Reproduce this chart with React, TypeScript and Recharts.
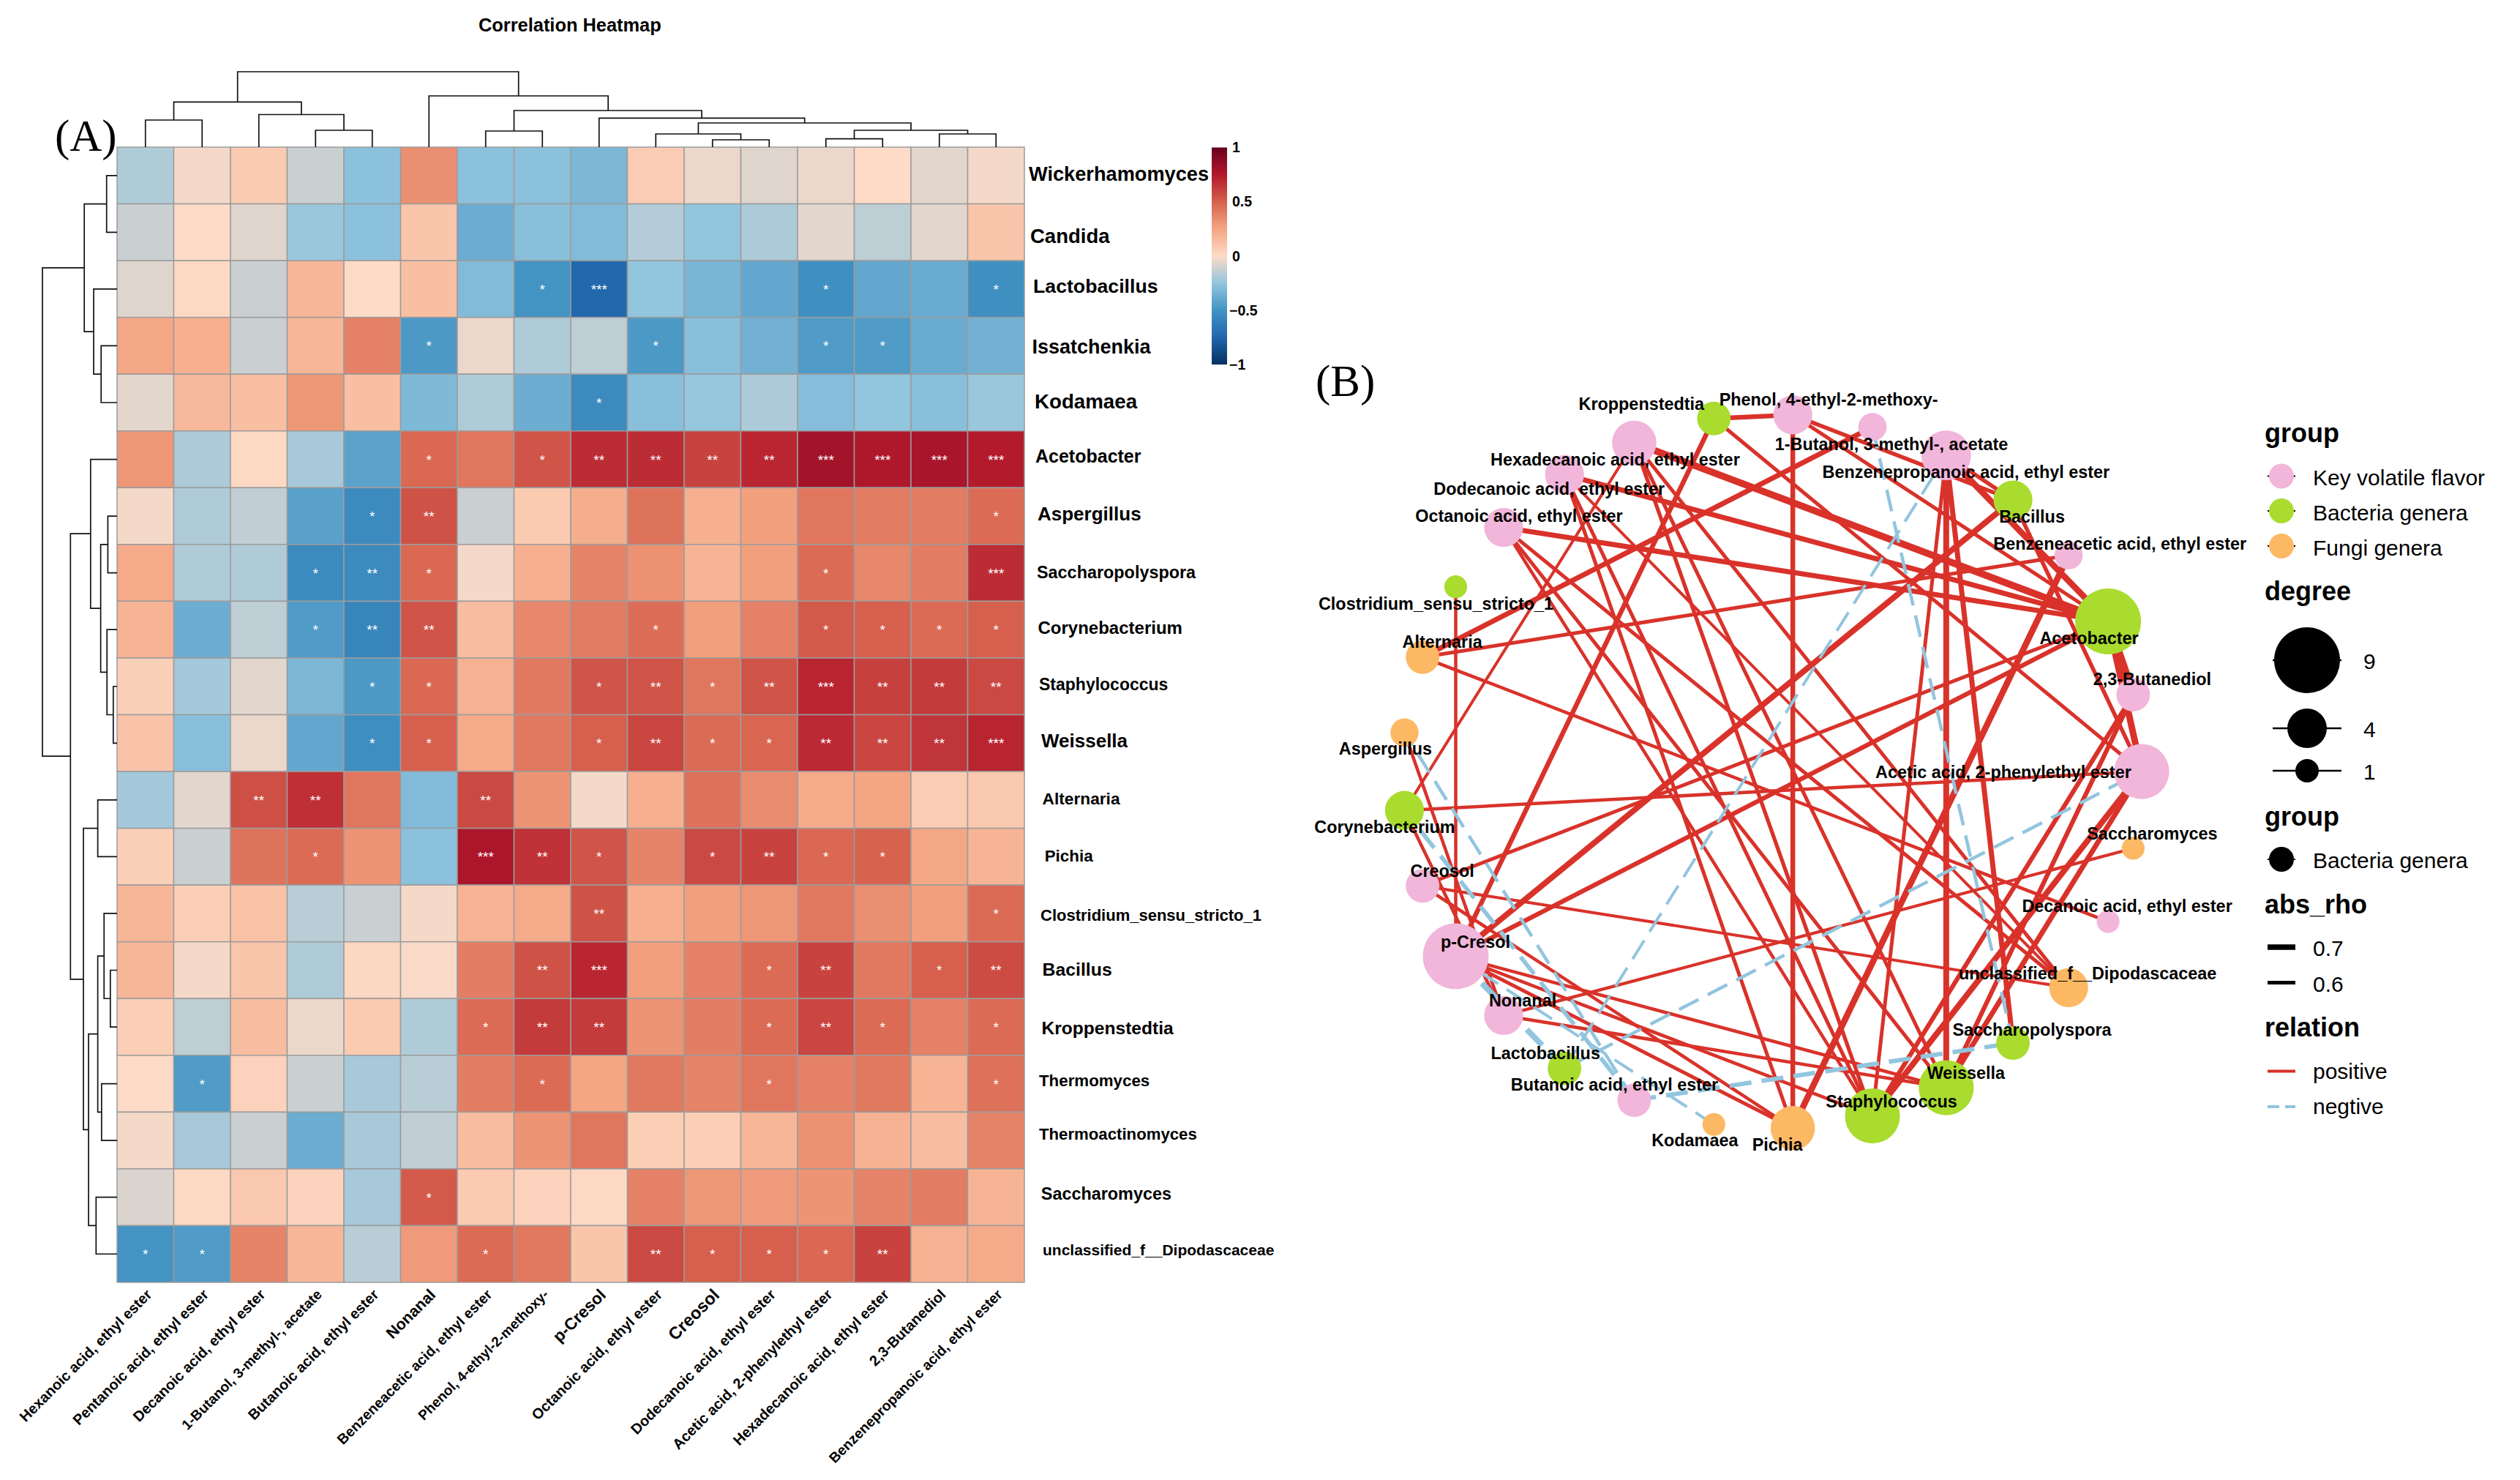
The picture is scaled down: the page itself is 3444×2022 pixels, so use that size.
// App.tsx
import { ScatterChart, Scatter, XAxis, YAxis, ReferenceArea } from 'recharts';

const PAGE_W = 3444;
const PAGE_H = 2022;
const CELL = 77.5;
const SANS = '"Liberation Sans", Arial, sans-serif';

const colLabels = [
  'Hexanoic acid, ethyl ester', 'Pentanoic acid, ethyl ester', 'Decanoic acid, ethyl ester',
  '1-Butanol, 3-methyl-, acetate', 'Butanoic acid, ethyl ester', 'Nonanal',
  'Benzeneacetic acid, ethyl ester', 'Phenol, 4-ethyl-2-methoxy-', 'p-Cresol',
  'Octanoic acid, ethyl ester', 'Creosol', 'Dodecanoic acid, ethyl ester',
  'Acetic acid, 2-phenylethyl ester', 'Hexadecanoic acid, ethyl ester', '2,3-Butanediol',
  'Benzenepropanoic acid, ethyl ester',
];
const colLabelSize = [20, 20, 20, 19.2, 20, 21.5, 19.6, 19, 22.5, 20, 23.5, 20, 20, 20, 20, 19.4];

const rowLabels = [
  'Wickerhamomyces', 'Candida', 'Lactobacillus', 'Issatchenkia', 'Kodamaea', 'Acetobacter',
  'Aspergillus', 'Saccharopolyspora', 'Corynebacterium', 'Staphylococcus', 'Weissella',
  'Alternaria', 'Pichia', 'Clostridium_sensu_stricto_1', 'Bacillus', 'Kroppenstedtia',
  'Thermomyces', 'Thermoactinomyces', 'Saccharomyces', 'unclassified_f__Dipodascaceae',
];
const rowLabelSize = [27.2, 27.5, 26.7, 27, 27.7, 25, 26, 23.4, 24, 23, 26, 22.7, 22.4, 22, 24.8, 24.6, 22.3, 22.2, 23.4, 21];
const rowLabelDx = [6, 8, 12, 10.5, 14, 15, 18, 17, 18.5, 20, 23, 24.6, 27.7, 22, 24.6, 23.4, 20, 20, 22.8, 25];
const rowLabelDy = [-2, 5, -4, 1, -2, -4, -3, -1, -3, -3, -3, -2, -1, 2, -1, 1, -4, -9, -5, -6];

// one row per genus
const heatValues = [
  [-0.18, -0.02, 0.08, -0.12, -0.27, 0.33, -0.27, -0.27, -0.32, 0.07, -0.04, -0.07, -0.04, 0, -0.06, -0.02],
  [-0.12, 0, -0.07, -0.23, -0.27, 0.1, -0.37, -0.28, -0.3, -0.17, -0.25, -0.19, -0.06, -0.15, -0.06, 0.1],
  [-0.07, 0.01, -0.12, 0.17, 0, 0.13, -0.3, -0.5, -0.74, -0.25, -0.33, -0.4, -0.52, -0.4, -0.38, -0.52],
  [0.24, 0.2, -0.12, 0.17, 0.38, -0.47, -0.04, -0.18, -0.15, -0.47, -0.28, -0.35, -0.46, -0.46, -0.38, -0.35],
  [-0.06, 0.16, 0.13, 0.3, 0.13, -0.31, -0.18, -0.37, -0.55, -0.28, -0.24, -0.19, -0.29, -0.25, -0.28, -0.23],
  [0.3, -0.19, 0.01, -0.2, -0.42, 0.47, 0.42, 0.54, 0.68, 0.68, 0.6, 0.7, 0.8, 0.76, 0.78, 0.74],
  [-0.02, -0.18, -0.14, -0.43, -0.55, 0.55, -0.12, 0.08, 0.21, 0.43, 0.2, 0.27, 0.42, 0.4, 0.4, 0.46],
  [0.22, -0.18, -0.18, -0.55, -0.55, 0.47, -0.02, 0.2, 0.37, 0.32, 0.18, 0.27, 0.46, 0.36, 0.4, 0.68],
  [0.18, -0.37, -0.15, -0.46, -0.58, 0.54, 0.14, 0.36, 0.4, 0.45, 0.27, 0.38, 0.52, 0.5, 0.46, 0.5],
  [0.05, -0.21, -0.06, -0.32, -0.47, 0.47, 0.19, 0.41, 0.54, 0.54, 0.42, 0.54, 0.71, 0.61, 0.63, 0.58],
  [0.11, -0.28, -0.04, -0.4, -0.53, 0.5, 0.22, 0.41, 0.5, 0.59, 0.46, 0.48, 0.69, 0.59, 0.65, 0.71],
  [-0.21, -0.06, 0.56, 0.67, 0.42, -0.3, 0.58, 0.31, -0.02, 0.2, 0.44, 0.34, 0.22, 0.25, 0.07, 0.09],
  [0.05, -0.12, 0.43, 0.46, 0.31, -0.27, 0.77, 0.66, 0.54, 0.37, 0.58, 0.6, 0.47, 0.49, 0.24, 0.18],
  [0.17, 0.06, 0.12, -0.16, -0.12, -0.02, 0.18, 0.22, 0.55, 0.2, 0.27, 0.3, 0.41, 0.33, 0.27, 0.46],
  [0.17, -0.02, 0.1, -0.18, 0.02, -0.01, 0.39, 0.55, 0.7, 0.27, 0.38, 0.46, 0.6, 0.41, 0.5, 0.57],
  [0.06, -0.15, 0.14, -0.04, 0.08, -0.18, 0.46, 0.63, 0.63, 0.31, 0.39, 0.46, 0.59, 0.46, 0.38, 0.46],
  [0, -0.46, 0.04, -0.12, -0.2, -0.16, 0.39, 0.46, 0.25, 0.41, 0.37, 0.42, 0.38, 0.41, 0.18, 0.44],
  [-0.02, -0.2, -0.12, -0.37, -0.2, -0.14, 0.14, 0.31, 0.42, 0.06, 0.06, 0.17, 0.32, 0.19, 0.14, 0.37],
  [-0.08, 0.01, 0.09, 0.04, -0.2, 0.52, 0.08, 0.04, 0.01, 0.38, 0.3, 0.29, 0.31, 0.37, 0.4, 0.18],
  [-0.5, -0.46, 0.37, 0.17, -0.16, 0.29, 0.46, 0.41, 0.1, 0.58, 0.5, 0.5, 0.47, 0.6, 0.19, 0.22],
];

// number of significance stars per cell
const starCounts = [
  '0000000000000000', '0000000000000000', '0000000130001001', '0000010001001100',
  '0000000010000000', '0000010122223333', '0000120000000001', '0001210000001003',
  '0001220001001111', '0000110012123222', '0000110012112223', '0022002000000000',
  '0001003210121100', '0000000020000001', '0000000230012012', '0000001220012101',
  '0100000100010001', '0000000000000000', '0000010000000000', '1100001002111200',
];

// [pos a, height a, pos b, height b, merge height]
const topMerges = [
  [0.5, 0, 1.5, 0, 37], [3.5, 0, 4.5, 0, 23], [2.5, 0, 4, 23, 44.5], [1, 37, 3.25, 44.5, 61.6],
  [6.5, 0, 7.5, 0, 22], [10.5, 0, 11.5, 0, 10], [9.5, 0, 11, 10, 18], [12.5, 0, 13.5, 0, 11.4],
  [14.5, 0, 15.5, 0, 18], [13, 11.4, 15, 18, 23], [10.25, 18, 14, 23, 33], [8.5, 0, 12.125, 33, 39.6],
  [7, 22, 10.31, 39.6, 50], [5.5, 0, 8.66, 50, 70], [2.125, 61.6, 7.08, 70, 103],
];
const leftMerges = [
  [0.5, 0, 1.5, 0, 14.3], [3.5, 0, 4.5, 0, 21.8], [2.5, 0, 4, 21.8, 32], [1, 14.3, 3.25, 32, 44.8],
  [6.5, 0, 7.5, 0, 12.6], [9.5, 0, 10.5, 0, 5.2], [8.5, 0, 10, 5.2, 13.8], [7, 12.6, 9.25, 13.8, 22.4],
  [5.5, 0, 8.125, 22.4, 36.2], [11.5, 0, 12.5, 0, 26.4], [14.5, 0, 15.5, 0, 9.2], [13.5, 0, 15, 9.2, 17.8],
  [16.5, 0, 17.5, 0, 21.2], [14.25, 17.8, 17, 21.2, 26.4], [18.5, 0, 19.5, 0, 28.7], [15.625, 26.4, 19, 28.7, 39],
  [12, 26.4, 17.31, 39, 46], [6.81, 36.2, 14.66, 46, 63.7], [2.125, 44.8, 10.73, 63.7, 102],
];

const scaleStops = ['#053061', '#2166ac', '#4393c3', '#92c5de', '#fddbc7', '#f4a582', '#d6604d', '#b2182b', '#67001f'];
const colorbarTicks = [-1, -0.5, 0, 0.5, 1];

// network
const nodeNames = [
  'Acetic acid, 2-phenylethyl ester', '2,3-Butanediol', 'Acetobacter', 'Benzeneacetic acid, ethyl ester',
  'Bacillus', 'Benzenepropanoic acid, ethyl ester', '1-Butanol, 3-methyl-, acetate', 'Phenol, 4-ethyl-2-methoxy-',
  'Kroppenstedtia', 'Hexadecanoic acid, ethyl ester', 'Dodecanoic acid, ethyl ester', 'Octanoic acid, ethyl ester',
  'Clostridium_sensu_stricto_1', 'Alternaria', 'Aspergillus', 'Corynebacterium', 'Creosol', 'p-Cresol', 'Nonanal',
  'Lactobacillus', 'Butanoic acid, ethyl ester', 'Kodamaea', 'Pichia', 'Staphylococcus', 'Weissella',
  'Saccharopolyspora', 'unclassified_f__Dipodascaceae', 'Decanoic acid, ethyl ester', 'Saccharomyces',
];
const nodeX = [1, 0.977, 0.909, 0.802, 0.651, 0.47, 0.27, 0.054, -0.16, -0.376, -0.565, -0.73, -0.86, -0.95, -0.999, -0.999, -0.95, -0.86, -0.73, -0.565, -0.376, -0.16, 0.054, 0.27, 0.47, 0.651, 0.802, 0.909, 0.977];
const nodeY = [0, 0.215, 0.42, 0.605, 0.76, 0.885, 0.964, 0.998, 0.988, 0.92, 0.831, 0.683, 0.517, 0.32, 0.109, -0.109, -0.32, -0.517, -0.683, -0.831, -0.92, -0.988, -0.998, -0.964, -0.885, -0.76, -0.605, -0.42, -0.215];
const nodeDegree = [7, 3, 9, 2, 4, 6, 2, 4, 3, 5, 4, 4, 1, 3, 2, 4, 3, 9, 4, 3, 3, 1, 5, 7, 7, 3, 4, 1, 1];
// 0 key volatile flavor, 1 bacteria, 2 fungi
const nodeGroup = [0, 0, 1, 0, 1, 0, 0, 0, 1, 0, 0, 0, 1, 2, 2, 1, 0, 0, 0, 1, 0, 2, 2, 1, 1, 1, 2, 0, 2];
const groupColors = ['#f1b6da', '#a9dc2e', '#fdb863'];
const nodeLabelDx = [-189, 26, -26, 70, 26, 27, 26, 49, -99, -26, -21, 21, -27, 27, -26, -27, 27, 27, 26, -26, -27, -26, -21, 26, 27, 26, 26, 26, 26];
const nodeLabelDy = [1, -21, 23, -16, 23, 23, 23, -21, -20, 23, 19, -16, 23, -21, 22, 23, -20, -20, -21, -21, -21, 22, 23, -20, -20, -18, -20, -21, -20];

// [node a, node b, rho]
const edges: [string, string, number][] = [
  ['Kroppenstedtia', 'Phenol, 4-ethyl-2-methoxy-', 0.66],
  ['Kroppenstedtia', 'p-Cresol', 0.66],
  ['Kroppenstedtia', 'Acetic acid, 2-phenylethyl ester', 0.6],
  ['Acetobacter', 'Hexadecanoic acid, ethyl ester', 0.78],
  ['Acetobacter', 'Dodecanoic acid, ethyl ester', 0.68],
  ['Acetobacter', 'Octanoic acid, ethyl ester', 0.68],
  ['Acetobacter', 'Benzenepropanoic acid, ethyl ester', 0.74],
  ['Acetobacter', '2,3-Butanediol', 0.84],
  ['Acetobacter', 'Acetic acid, 2-phenylethyl ester', 0.76],
  ['Acetobacter', 'Creosol', 0.6],
  ['Acetobacter', 'p-Cresol', 0.65],
  ['Acetobacter', 'Phenol, 4-ethyl-2-methoxy-', 0.6],
  ['Alternaria', '1-Butanol, 3-methyl-, acetate', 0.68],
  ['Alternaria', 'Benzeneacetic acid, ethyl ester', 0.6],
  ['Alternaria', 'Decanoic acid, ethyl ester', 0.58],
  ['Bacillus', 'p-Cresol', 0.72],
  ['Bacillus', 'Phenol, 4-ethyl-2-methoxy-', 0.62],
  ['Bacillus', 'Acetic acid, 2-phenylethyl ester', 0.62],
  ['Bacillus', 'Benzenepropanoic acid, ethyl ester', 0.62],
  ['Pichia', 'Phenol, 4-ethyl-2-methoxy-', 0.66],
  ['Pichia', 'Benzeneacetic acid, ethyl ester', 0.74],
  ['Pichia', 'Dodecanoic acid, ethyl ester', 0.6],
  ['Pichia', 'Creosol', 0.58],
  ['Pichia', 'p-Cresol', 0.6],
  ['Staphylococcus', 'Hexadecanoic acid, ethyl ester', 0.61],
  ['Staphylococcus', 'Octanoic acid, ethyl ester', 0.58],
  ['Staphylococcus', 'Dodecanoic acid, ethyl ester', 0.6],
  ['Staphylococcus', 'Benzenepropanoic acid, ethyl ester', 0.6],
  ['Staphylococcus', 'Acetic acid, 2-phenylethyl ester', 0.72],
  ['Staphylococcus', '2,3-Butanediol', 0.65],
  ['Staphylococcus', 'p-Cresol', 0.58],
  ['Weissella', 'Benzenepropanoic acid, ethyl ester', 0.72],
  ['Weissella', 'Acetic acid, 2-phenylethyl ester', 0.68],
  ['Weissella', '2,3-Butanediol', 0.65],
  ['Weissella', 'Hexadecanoic acid, ethyl ester', 0.6],
  ['Weissella', 'Octanoic acid, ethyl ester', 0.6],
  ['Weissella', 'p-Cresol', 0.58],
  ['Weissella', 'Nonanal', 0.58],
  ['unclassified_f__Dipodascaceae', 'Octanoic acid, ethyl ester', 0.6],
  ['unclassified_f__Dipodascaceae', 'Hexadecanoic acid, ethyl ester', 0.6],
  ['unclassified_f__Dipodascaceae', 'Dodecanoic acid, ethyl ester', 0.56],
  ['unclassified_f__Dipodascaceae', 'Creosol', 0.56],
  ['Clostridium_sensu_stricto_1', 'p-Cresol', 0.58],
  ['Corynebacterium', 'Hexadecanoic acid, ethyl ester', 0.56],
  ['Corynebacterium', 'Acetic acid, 2-phenylethyl ester', 0.58],
  ['Corynebacterium', 'Nonanal', 0.58],
  ['Aspergillus', 'Nonanal', 0.58],
  ['Saccharopolyspora', 'Benzenepropanoic acid, ethyl ester', 0.68],
  ['Saccharomyces', 'Nonanal', 0.57],
  ['Lactobacillus', 'p-Cresol', -0.72],
  ['Lactobacillus', 'Acetic acid, 2-phenylethyl ester', -0.58],
  ['Lactobacillus', 'Benzenepropanoic acid, ethyl ester', -0.56],
  ['Kodamaea', 'p-Cresol', -0.56],
  ['Butanoic acid, ethyl ester', 'Aspergillus', -0.58],
  ['Butanoic acid, ethyl ester', 'Corynebacterium', -0.63],
  ['Butanoic acid, ethyl ester', 'Saccharopolyspora', -0.64],
  ['1-Butanol, 3-methyl-, acetate', 'Saccharopolyspora', -0.58],
];

const hexToRgb = (h: string) => [1, 3, 5].map((i) => parseInt(h.slice(i, i + 2), 16));

function heatColor(v: number) {
  const t = (Math.max(-1, Math.min(1, v)) + 1) * 4;
  const i = Math.min(7, Math.floor(t));
  const a = hexToRgb(scaleStops[i]);
  const b = hexToRgb(scaleStops[i + 1]);
  const c = a.map((n, k) => Math.round(n + (b[k] - n) * (t - i)));
  return `rgb(${c[0]},${c[1]},${c[2]})`;
}

const heatData = rowLabels.flatMap((_, r) =>
  colLabels.map((__, c) => ({ x: c + 0.5, y: r + 0.5, value: heatValues[r][c], stars: Number(starCounts[r][c]) })),
);
const colTicks = colLabels.map((_, i) => i + 0.5);
const rowTicks = rowLabels.map((_, i) => i + 0.5);

const nodeData = nodeNames.map((name, i) => ({
  name,
  x: nodeX[i],
  y: nodeY[i],
  degree: nodeDegree[i],
  group: nodeGroup[i],
  index: i,
}));
const nodeAt = (name: string) => nodeData[nodeNames.indexOf(name)];

// same radius law as the degree legend
const degreeRadius = (d: number) => 15.6 + (d - 1) * 3.67;
const rhoWidth = (rho: number) => 5 + (Math.abs(rho) - 0.6) * 25;

function HeatCell(props: any) {
  const { cx, cy, payload } = props;
  return (
    <g>
      <rect x={cx - CELL / 2} y={cy - CELL / 2} width={CELL} height={CELL} fill={heatColor(payload.value)} stroke="#9c9c9c" strokeWidth={1.5} />
      {payload.stars > 0 && (
        <text x={cx} y={cy + 7} textAnchor="middle" fontFamily={SANS} fontSize={19} fill="#ffffff">
          {'*'.repeat(payload.stars)}
        </text>
      )}
    </g>
  );
}

function ColTick(props: any) {
  const { x, payload } = props;
  const i = Math.floor(payload.value);
  const px = x + 5;
  const py = 1765;
  return (
    <text
      x={px}
      y={py}
      dy="0.35em"
      textAnchor="end"
      transform={`rotate(-45 ${px} ${py})`}
      fontFamily={SANS}
      fontWeight="bold"
      fontSize={colLabelSize[i]}
      fill="#000"
    >
      {colLabels[i]}
    </text>
  );
}

function RowTick(props: any) {
  const { y, payload } = props;
  const i = Math.floor(payload.value);
  return (
    <text
      x={1400 + rowLabelDx[i]}
      y={y + rowLabelDy[i]}
      dy="0.35em"
      fontFamily={SANS}
      fontWeight="bold"
      fontSize={rowLabelSize[i]}
      fill="#000"
    >
      {rowLabels[i]}
    </text>
  );
}

function ColorbarTick(props: any) {
  const { y, payload } = props;
  const v = payload.value;
  return (
    <text x={v < 0 ? 1680 : 1684} y={y} dy="0.35em" fontFamily={SANS} fontWeight="bold" fontSize={19.5} fill="#000">
      {v < 0 ? `\u2212${Math.abs(v)}` : v}
    </text>
  );
}

function NodeDot(props: any) {
  const { cx, cy, payload } = props;
  return <circle cx={cx} cy={cy} r={degreeRadius(payload.degree)} fill={groupColors[payload.group]} />;
}

function NodeLabel(props: any) {
  const { cx, cy, payload } = props;
  const i = payload.index;
  return (
    <text
      x={cx + nodeLabelDx[i]}
      y={cy + nodeLabelDy[i]}
      dy="0.35em"
      textAnchor="middle"
      fontFamily={SANS}
      fontWeight="bold"
      fontSize={23.4}
      fill="#000"
    >
      {payload.name}
    </text>
  );
}

const NoDot = () => <g />;

// every layer covers the page; the margins place its plot area. Axes take 1px
// because an axis of size 0 is not drawn.
const layer = (left: number, top: number, right: number, bottom: number, axisX = 0, axisY = 0) => ({
  width: PAGE_W,
  height: PAGE_H,
  margin: { left, top, right: PAGE_W - right - axisY, bottom: PAGE_H - bottom - axisX },
  style: { position: 'absolute' as const, left: 0, top: 0 },
});

function LegendPanel() {
  const head = { fontFamily: SANS, fontWeight: 'bold', fontSize: 36, fill: '#000' };
  const item = { fontFamily: SANS, fontSize: 30, fill: '#000' };
  const groups = [
    ['Key volatile flavor', groupColors[0], 650.5],
    ['Bacteria genera', groupColors[1], 698],
    ['Fungi genera', groupColors[2], 746],
  ] as const;
  const sizes = [
    ['9', 902, 45],
    ['4', 995, 27],
    ['1', 1053, 16],
  ] as const;
  return (
    <svg width={PAGE_W} height={PAGE_H} style={{ position: 'absolute', left: 0, top: 0 }}>
      <text x={654} y={34} dy="0.35em" fontFamily={SANS} fontWeight="bold" fontSize={25.4}>Correlation Heatmap</text>
      <text x={75} y={186} dy="0.33em" fontFamily='"Liberation Serif", serif' fontSize={61}>(A)</text>
      <text x={1798} y={521} dy="0.33em" fontFamily='"Liberation Serif", serif' fontSize={61}>(B)</text>

      <text x={3095} y={593} dy="0.3em" {...head}>group</text>
      {groups.map(([label, color, y]) => (
        <g key={label}>
          <line x1={3099} x2={3137} y1={y} y2={y} stroke="#000" strokeWidth={2} />
          <circle cx={3118} cy={y} r={17} fill={color} />
          <text x={3161} y={y + 2} dy="0.35em" {...item}>{label}</text>
        </g>
      ))}

      <text x={3095} y={809} dy="0.3em" {...head}>degree</text>
      {sizes.map(([label, y, r]) => (
        <g key={label}>
          <line x1={3106} x2={3200} y1={y} y2={y} stroke="#000" strokeWidth={2.5} />
          <circle cx={3153} cy={y} r={r} fill="#000" />
          <text x={3230} y={y + 1} dy="0.35em" {...item}>{label}</text>
        </g>
      ))}

      <text x={3095} y={1117} dy="0.3em" {...head}>group</text>
      <line x1={3099} x2={3137} y1={1174} y2={1174} stroke="#000" strokeWidth={2} />
      <circle cx={3118} cy={1174} r={17} fill="#000" />
      <text x={3161} y={1175} dy="0.35em" {...item}>Bacteria genera</text>

      <text x={3095} y={1237} dy="0.3em" {...head}>abs_rho</text>
      <line x1={3099} x2={3137} y1={1294} y2={1294} stroke="#000" strokeWidth={7.5} />
      <text x={3161} y={1295} dy="0.35em" {...item}>0.7</text>
      <line x1={3099} x2={3137} y1={1342.5} y2={1342.5} stroke="#000" strokeWidth={5} />
      <text x={3161} y={1344} dy="0.35em" {...item}>0.6</text>

      <text x={3095} y={1405} dy="0.3em" {...head}>relation</text>
      <line x1={3099} x2={3137} y1={1463.5} y2={1463.5} stroke="#d73027" strokeWidth={4} />
      <text x={3161} y={1465} dy="0.3em" {...item}>positive</text>
      <line x1={3099} x2={3137} y1={1512} y2={1512} stroke="#92c5de" strokeWidth={4} strokeDasharray="16 8" />
      <text x={3161} y={1513} dy="0.3em" {...item}>negtive</text>
    </svg>
  );
}

export default function App() {
  return (
    <div style={{ position: 'absolute', left: 0, top: 0, width: PAGE_W, height: PAGE_H, background: '#fff' }}>
      {/* heatmap */}
      <ScatterChart {...layer(160, 201, 1400, 1752, 1, 1)}>
        <XAxis type="number" dataKey="x" domain={[0, 16]} ticks={colTicks} interval={0} height={1} tick={<ColTick />} tickLine={false} axisLine={false} tickMargin={0} tickSize={0} />
        <YAxis type="number" dataKey="y" domain={[0, 20]} reversed orientation="right" ticks={rowTicks} interval={0} width={1} tick={<RowTick />} tickLine={false} axisLine={false} tickMargin={0} tickSize={0} />
        <Scatter data={heatData} isAnimationActive={false} shape={<HeatCell />} />
      </ScatterChart>

      {/* column dendrogram */}
      <ScatterChart {...layer(160, 95, 1400, 201)}>
        <XAxis type="number" dataKey="x" domain={[0, 16]} hide />
        <YAxis type="number" dataKey="y" domain={[0, 106]} hide />
        {topMerges.map(([a, ha, b, hb, h], i) => (
          <Scatter
            key={i}
            data={[{ x: a, y: ha }, { x: a, y: h }, { x: b, y: h }, { x: b, y: hb }]}
            line={{ stroke: '#111', strokeWidth: 1.7 }}
            shape={<NoDot />}
            isAnimationActive={false}
          />
        ))}
      </ScatterChart>

      {/* row dendrogram */}
      <ScatterChart {...layer(54, 201, 160, 1752)}>
        <XAxis type="number" dataKey="x" domain={[0, 106]} reversed hide />
        <YAxis type="number" dataKey="y" domain={[0, 20]} reversed hide />
        {leftMerges.map(([a, wa, b, wb, w], i) => (
          <Scatter
            key={i}
            data={[{ x: wa, y: a }, { x: w, y: a }, { x: w, y: b }, { x: wb, y: b }]}
            line={{ stroke: '#111', strokeWidth: 1.7 }}
            shape={<NoDot />}
            isAnimationActive={false}
          />
        ))}
      </ScatterChart>

      {/* colour bar */}
      <ScatterChart {...layer(1656, 201.5, 1677, 498, 0, 1)}>
        <defs>
          <linearGradient id="heatScale" x1="0" y1="1" x2="0" y2="0">
            {scaleStops.map((c, i) => (
              <stop key={c} offset={i / (scaleStops.length - 1)} stopColor={c} />
            ))}
          </linearGradient>
        </defs>
        <XAxis type="number" dataKey="x" domain={[0, 1]} hide />
        <YAxis type="number" dataKey="y" domain={[-1, 1]} orientation="right" ticks={colorbarTicks} interval={0} width={1} tick={<ColorbarTick />} tickLine={false} axisLine={false} />
        <ReferenceArea x1={0} x2={1} y1={-1} y2={1} fill="url(#heatScale)" fillOpacity={1} stroke="none" ifOverflow="visible" />
        <Scatter data={colorbarTicks.map((y) => ({ x: 0.5, y }))} shape={<NoDot />} isAnimationActive={false} />
      </ScatterChart>

      {/* network */}
      <ScatterChart {...layer(1800, 500, 3060, 1610)}>
        <XAxis type="number" dataKey="x" domain={[-1.236, 1.264]} hide />
        <YAxis type="number" dataKey="y" domain={[-1.139, 1.135]} hide />
        {edges.map(([a, b, rho], i) => (
          <Scatter
            key={i}
            data={[nodeAt(a), nodeAt(b)]}
            line={
              rho > 0
                ? { stroke: '#d9322a', strokeWidth: rhoWidth(rho) }
                : { stroke: '#92c5de', strokeWidth: rhoWidth(rho), strokeDasharray: '30 14' }
            }
            shape={<NoDot />}
            isAnimationActive={false}
          />
        ))}
        <Scatter data={nodeData} shape={<NodeDot />} isAnimationActive={false} />
        <Scatter data={nodeData} shape={<NodeLabel />} isAnimationActive={false} />
      </ScatterChart>

      <LegendPanel />
    </div>
  );
}
